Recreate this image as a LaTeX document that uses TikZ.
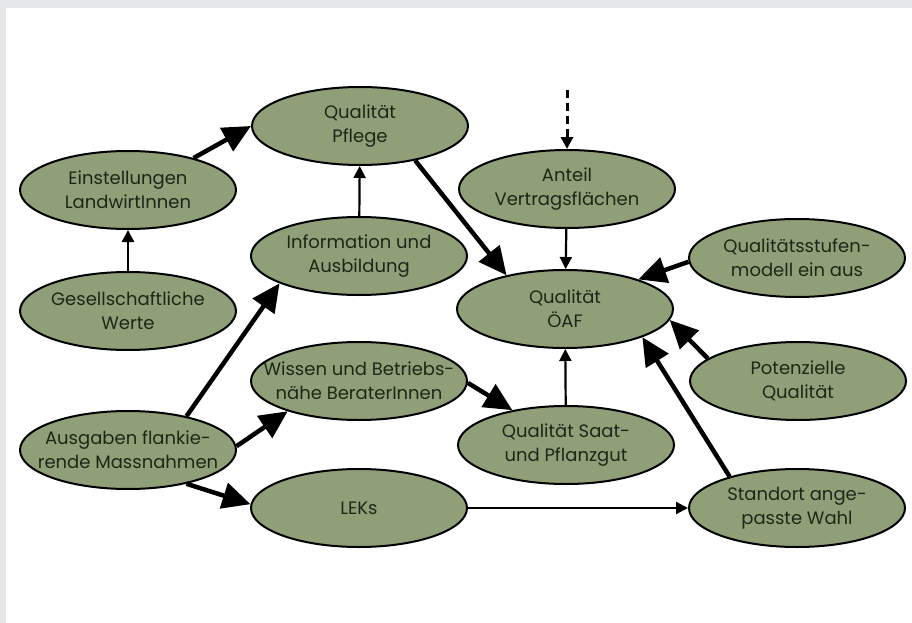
\documentclass[tikz,border=0pt]{standalone}
\usepackage{fontspec}
\setmainfont{Poppins}
\usetikzlibrary{arrows.meta,shapes.geometric}
\definecolor{oliv}{RGB}{143,160,120}
\definecolor{rahmen}{RGB}{230,231,233}
\definecolor{schrift}{RGB}{30,38,24}
\tikzset{
  feld/.style={ellipse, draw=black, line width=2pt, fill=oliv,
    minimum width=216pt, minimum height=78pt, inner xsep=-30pt, inner ysep=0pt,
    align=center, text=schrift, font=\fontsize{18}{24}\selectfont},
  stark/.style={line width=4.5pt, -{Triangle[length=28pt,width=26pt]}},
  schwach/.style={line width=2.2pt, -{Triangle[length=12pt,width=12pt]}}
}
\begin{document}
\begin{tikzpicture}[x=1pt,y=-1pt]
  \useasboundingbox (0,0) rectangle (912,623);
  \fill[rahmen] (0,0) rectangle (912,623);
  \fill[white] (6,8) rectangle (912,623);
  \draw
    (360,126) node[feld] (pflege){Qualität\\Pflege}
    (128,190) node[feld] (einst){Einstellungen\\LandwirtInnen}
    (128,311) node[feld] (werte){Gesellschaftliche\\Werte}
    (359,256) node[feld] (info){Information und\\Ausbildung}
    (567,189) node[feld] (anteil){Anteil\\Vertragsflächen}
    (565,309) node[feld] (oeaf){Qualität\\ÖAF}
    (797,258) node[feld] (stufen){Qualitätsstufen-\\modell ein aus}
    (798,381) node[feld] (potenz){Potenzielle\\Qualität}
    (359,381) node[feld] (wissen){Wissen und Betriebs-\\nähe BeraterInnen}
    (128,450) node[feld] (ausgaben){Ausgaben flankie-\\rende Massnahmen}
    (566,445) node[feld] (saat){Qualität Saat-\\und Pflanzgut}
    (359,508) node[feld] (leks){LEKs}
    (797,508) node[feld] (standort){Standort ange-\\passte Wahl};
  \coordinate (oben) at (567,90);
  \begin{scope}[schwach]
    \draw (werte) to (einst);
    \draw (info) to (pflege);
    \draw[line width=3pt, dash pattern=on 8pt off 5pt] (oben) to (anteil);
    \draw (anteil) to (oeaf);
    \draw (saat) to (oeaf);
    \draw (leks) to (standort);
  \end{scope}
  \begin{scope}[stark]
    \draw (einst.26) to (pflege.west);
    \draw (pflege.-32) to (oeaf.150);
    \draw (stufen.182) to (oeaf.22);
    \draw (potenz.166) to (oeaf.-6);
    \draw (standort.155) to (oeaf.-20);
    \draw (wissen.-1) to (saat.147);
    \draw (ausgaben.30) to (info.-161);
    \draw (ausgaben.2) to (wissen.-157);
    \draw (ausgaben.-30) to (leks.178);
  \end{scope}
\end{tikzpicture}
\end{document}
